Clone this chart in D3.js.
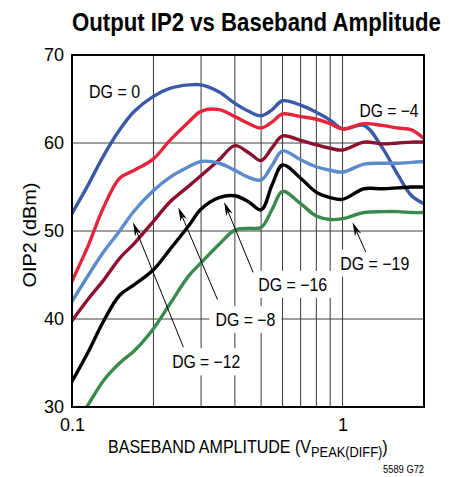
<!DOCTYPE html>
<html>
<head>
<meta charset="utf-8">
<script src="https://cdn.jsdelivr.net/npm/d3@7"></script>
<style>
  html, body { margin: 0; padding: 0; background: #fff; }
  text { font-family: "Liberation Sans", Arial, Helvetica, sans-serif; fill: #000; }
</style>
</head>
<body>
<svg id="chart" width="453" height="477"></svg>
<script>
// Baseband amplitude (V peak, differential) sample points shared by every curve
const amplitude = [0.1, 0.115, 0.13, 0.15, 0.17, 0.2, 0.23, 0.27, 0.3, 0.35, 0.4, 0.45,
                   0.5, 0.55, 0.6, 0.7, 0.8, 0.9, 1.0, 1.2, 1.4, 1.6, 1.8, 2.0];

// Output IP2 (dBm) for each digital gain setting
const oip2DG0   = [52.0, 55.3, 58.4, 61.5, 63.6, 65.3, 66.2, 66.6, 66.6, 65.8, 64.5, 63.6,
                   63.1, 63.8, 64.8, 64.3, 63.5, 62.6, 61.6, 62.0, 59.5, 56.4, 54.0, 53.1];
const oip2DG4   = [44.3, 48.4, 52.5, 56.0, 56.9, 58.2, 60.3, 62.4, 63.6, 63.8, 63.0, 62.2,
                   61.7, 62.4, 63.3, 63.0, 62.7, 62.2, 61.6, 62.2, 62.0, 61.7, 61.5, 60.5];
const oip2DG8   = [39.8, 42.3, 44.3, 46.9, 48.6, 51.1, 53.3, 55.1, 56.3, 58.1, 59.7, 58.9,
                   58.0, 59.5, 60.8, 60.3, 59.8, 59.4, 59.2, 60.1, 59.9, 60.0, 60.1, 60.1];
const oip2DG12  = [42.0, 45.0, 47.5, 50.0, 52.3, 54.6, 56.1, 57.3, 57.9, 57.7, 56.9, 56.1,
                   55.8, 57.5, 59.1, 58.1, 57.3, 56.9, 56.7, 57.6, 57.7, 57.7, 57.8, 57.9];
const oip2DG16  = [32.9, 36.3, 39.6, 42.7, 43.9, 45.6, 47.9, 50.6, 52.5, 53.8, 54.0, 53.3,
                   52.4, 55.3, 57.5, 56.0, 54.4, 53.8, 53.6, 54.8, 54.8, 54.9, 55.0, 55.0];
const oip2DG19  = [27.6, 30.3, 32.9, 35.0, 36.4, 38.9, 41.7, 44.9, 46.4, 48.5, 50.1, 50.3,
                   50.4, 52.5, 54.5, 53.1, 51.7, 51.3, 51.4, 52.1, 52.2, 52.2, 52.1, 52.1];

const seriesNames  = ["DG = 0", "DG = −4", "DG = −8", "DG = −12", "DG = −16", "DG = −19"];
const seriesValues = [oip2DG0, oip2DG4, oip2DG8, oip2DG12, oip2DG16, oip2DG19];
const seriesColors = ["#3a5aa8", "#e3263b", "#8c1030", "#5b8bca", "#000000", "#3a8a4c"];

// Axis ticks
const yTicks = [30, 40, 50, 60, 70];
const xTicks = [0.1, 1];
const xTickLabels = ["0.1", "1"];
const xGridValues = [0.2, 0.3, 0.4, 0.5, 0.6, 0.7, 0.8, 0.9, 1];
const yGridValues = [40, 50, 60];

// Curve labels: anchor (amplitude, dBm) of the text's left baseline
const labelAmp = [0.1156, 1.156, 0.339, 0.2345, 0.488, 0.981];
const labelDbm = [65.1, 63.0, 39.2, 34.4, 43.2, 45.6];
const labelBoxed = [false, false, true, true, true, true];
// Leader arrows (tail -> head) for the lower curves, in data units
const arrowSeries  = [3, 2, 4, 5];
const arrowTailAmp = [0.258, 0.345, 0.467, 1.219];
const arrowTailDbm = [36.8, 42.2, 45.3, 47.6];
const arrowHeadAmp = [0.168, 0.247, 0.365, 1.088];
const arrowHeadDbm = [51.0, 52.7, 53.3, 51.0];

const svg = d3.select("#chart");
const plot = { left: 72, right: 424, top: 55, bottom: 407 };

const x = d3.scaleLog().domain([0.1, 2]).range([plot.left, plot.right]);
const y = d3.scaleLinear().domain([30, 70]).range([plot.bottom, plot.top]);

// Text squeezed horizontally to a given width (condensed face look)
function fitText(parent, str, px, py, size, width, anchor, weight) {
  const g = parent.append("g").attr("transform", `translate(${px},${py})`);
  const t = g.append("text")
    .attr("font-size", size)
    .attr("text-anchor", anchor || "start")
    .attr("font-weight", weight || "normal")
    .text(str);
  const w = t.node().getComputedTextLength();
  g.attr("transform", `translate(${px},${py}) scale(${width / w},1)`);
  return g;
}

// Title
fitText(svg, "Output IP2 vs Baseband Amplitude", 72, 31, 26, 369, "start", "bold");

// Grid
const grid = svg.append("g");
grid.selectAll("line.h").data(yGridValues).join("line")
  .attr("x1", plot.left).attr("x2", plot.right)
  .attr("y1", d => y(d)).attr("y2", d => y(d))
  .attr("stroke", "#7f7f7f").attr("stroke-width", 1.5);
grid.selectAll("line.v").data(xGridValues).join("line")
  .attr("x1", d => x(d)).attr("x2", d => x(d))
  .attr("y1", plot.top).attr("y2", plot.bottom)
  .attr("stroke", "#3a3a3a").attr("stroke-width", 1);

// Label boxes that mask the grid behind text
const labelWidths = [51, 59, 60, 68, 69, 69];
const boxes = svg.append("g");
seriesNames.forEach((name, i) => {
  if (!labelBoxed[i]) return;
  boxes.append("rect")
    .attr("x", x(labelAmp[i]) - 6)
    .attr("y", y(labelDbm[i]) - 20)
    .attr("width", labelWidths[i] + 12)
    .attr("height", 27)
    .attr("fill", "#fff");
});

// Curves
svg.append("clipPath").attr("id", "plotClip").append("rect")
  .attr("x", plot.left).attr("y", plot.top)
  .attr("width", plot.right - plot.left).attr("height", plot.bottom - plot.top);

const line = d3.line()
  .x(d => x(d[0]))
  .y(d => y(d[1]))
  .curve(d3.curveCatmullRom.alpha(0.5));

const curves = svg.append("g").attr("clip-path", "url(#plotClip)");
seriesValues.forEach((vals, i) => {
  curves.append("path")
    .datum(amplitude.map((a, k) => [a, vals[k]]))
    .attr("d", line)
    .attr("fill", "none")
    .attr("stroke", seriesColors[i])
    .attr("stroke-width", 3.4)
    .attr("stroke-linejoin", "round")
    .attr("stroke-linecap", "round");
});

// Frame
svg.append("rect")
  .attr("x", plot.left).attr("y", plot.top)
  .attr("width", plot.right - plot.left).attr("height", plot.bottom - plot.top)
  .attr("fill", "none").attr("stroke", "#000").attr("stroke-width", 2);

// Axes (labels only)
const yAxis = svg.append("g")
  .attr("transform", `translate(${plot.left},0)`)
  .call(d3.axisLeft(y).tickValues(yTicks).tickSize(0).tickPadding(8));
const xAxis = svg.append("g")
  .attr("transform", `translate(0,${plot.bottom})`)
  .call(d3.axisBottom(x).tickValues(xTicks).tickSize(0).tickPadding(11)
    .tickFormat((d, i) => xTickLabels[i]));
[yAxis, xAxis].forEach(a => {
  a.select(".domain").remove();
  a.selectAll("text").attr("font-size", 18).attr("fill", "#000")
    .attr("font-family", "'Liberation Sans', Arial, sans-serif");
});

// Arrows
const arrows = svg.append("g");
arrowSeries.forEach((s, i) => {
  const x0 = x(arrowTailAmp[i]), y0 = y(arrowTailDbm[i]);
  const x1 = x(arrowHeadAmp[i]), y1 = y(arrowHeadDbm[i]);
  const ang = Math.atan2(y1 - y0, x1 - x0);
  const len = 14, half = 3.4;
  const bx = x1 - len * Math.cos(ang), by = y1 - len * Math.sin(ang);
  const notch = [x1 - (len - 4) * Math.cos(ang), y1 - (len - 4) * Math.sin(ang)];
  arrows.append("line")
    .attr("x1", x0).attr("y1", y0).attr("x2", notch[0]).attr("y2", notch[1])
    .attr("stroke", "#000").attr("stroke-width", 1);
  const p1 = [bx + half * Math.sin(ang), by - half * Math.cos(ang)];
  const p2 = [bx - half * Math.sin(ang), by + half * Math.cos(ang)];
  arrows.append("path")
    .attr("d", `M${x1},${y1}L${p1[0]},${p1[1]}L${notch[0]},${notch[1]}L${p2[0]},${p2[1]}Z`)
    .attr("fill", "#000");
});

// Curve labels
seriesNames.forEach((name, i) => {
  fitText(svg, name, x(labelAmp[i]), y(labelDbm[i]), 18, labelWidths[i]);
});

// Axis titles
const xTitle = svg.append("g").attr("transform", "translate(108,452.5)");
const xt = xTitle.append("text").attr("font-size", 17.5);
xt.append("tspan").text("BASEBAND AMPLITUDE (V");
xt.append("tspan").attr("font-size", 14).attr("dy", 4.5).text("PEAK(DIFF)");
xt.append("tspan").attr("dy", -4.5).text(")");
const xtw = xt.node().getBBox().width;
xTitle.attr("transform", `translate(108,452.5) scale(${280 / xtw},1)`);

const yTitle = svg.append("g");
const yt = yTitle.append("text").attr("font-size", 18).attr("text-anchor", "middle").text("OIP2 (dBm)");
const ytw = yt.node().getComputedTextLength();
yTitle.attr("transform", `translate(35.5,235) rotate(-90) scale(${105 / ytw},1)`);

// Figure code
fitText(svg, "5589 G72", 424, 473, 11, 41, "end");
</script>
</body>
</html>
